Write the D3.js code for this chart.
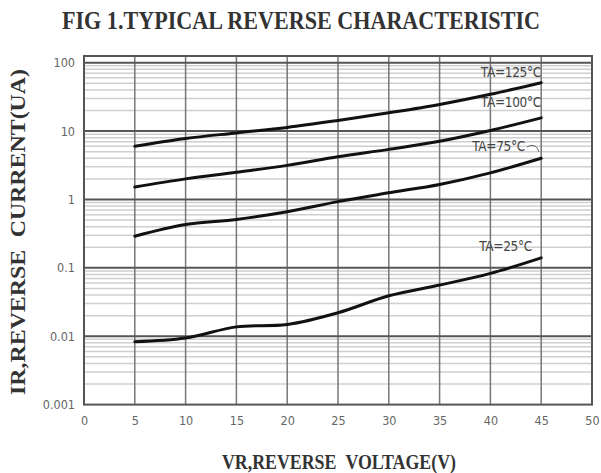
<!DOCTYPE html>
<html>
<head>
<meta charset="utf-8">
<script src="https://cdn.jsdelivr.net/npm/d3@7"></script>
<style>
  html, body { margin: 0; padding: 0; background: #fff; }
  svg { display: block; }
</style>
</head>
<body>
<svg id="chart" width="601" height="473"></svg>
<script>
// ---- data ----
const voltages = [5, 10, 15, 20, 25, 30, 35, 40, 45];
const ir125 = [6.0, 7.8, 9.4, 11.3, 14.3, 18.5, 24.5, 34.5, 51];
const ir100 = [1.52, 2.0, 2.5, 3.15, 4.2, 5.4, 7.1, 10.2, 15.6];
const ir75  = [0.29, 0.43, 0.51, 0.66, 0.93, 1.25, 1.66, 2.45, 4.0];
const ir25  = [0.0083, 0.0094, 0.0137, 0.0148, 0.022, 0.039, 0.056, 0.083, 0.14];
const seriesLabels = ["TA=125°C", "TA=100°C", "TA=75°C", "TA=25°C"];
const xTicks = [0, 5, 10, 15, 20, 25, 30, 35, 40, 45, 50];
const yTicks = [0.001, 0.01, 0.1, 1, 10, 100];
const yTickLabels = ["0.001", "0.01", "0.1", "1", "10", "100"];

const series = [ir125, ir100, ir75, ir25];

// ---- layout ----
const svg = d3.select("#chart");
const pL = 84, pR = 592, pT = 56, pB = 404.6;
const x = d3.scaleLinear().domain([0, 50]).range([pL, pR]);
const y = d3.scaleLog().domain([0.001, Math.pow(10, 2.098)]).range([pB, pT]);

// minor horizontal grid
const minor = [];
for (let e = -3; e <= 1; e++) for (let m = 2; m <= 9; m++) minor.push(m * Math.pow(10, e));
svg.append("g").selectAll("line").data(minor).join("line")
  .attr("x1", pL).attr("x2", pR)
  .attr("y1", d => y(d)).attr("y2", d => y(d))
  .attr("stroke", "#cfcfcf").attr("stroke-width", 1.5);

// vertical grid
svg.append("g").selectAll("line").data(xTicks.slice(1, -1)).join("line")
  .attr("x1", d => x(d)).attr("x2", d => x(d))
  .attr("y1", pT).attr("y2", pB)
  .attr("stroke", "#777").attr("stroke-width", 1.5);

// decade lines
svg.append("g").selectAll("line").data(yTicks.slice(1)).join("line")
  .attr("x1", pL).attr("x2", pR)
  .attr("y1", d => y(d)).attr("y2", d => y(d))
  .attr("stroke", "#555").attr("stroke-width", 2);

// frame
svg.append("rect").attr("x", pL).attr("y", pT)
  .attr("width", pR - pL).attr("height", pB - pT)
  .attr("fill", "none").attr("stroke", "#555").attr("stroke-width", 2);

const tickFont = "'DejaVu Sans Condensed', 'DejaVu Sans', sans-serif";
// axes labels via d3 axes
const xAxis = d3.axisBottom(x).tickValues(xTicks).tickSize(0).tickPadding(12).tickFormat(d3.format("d"));
const gx = svg.append("g").attr("transform", `translate(0,${pB})`).call(xAxis);
gx.select(".domain").remove();
gx.selectAll("text").attr("font-family", tickFont)
  .attr("font-size", 12.5).attr("fill", "#666");

const yAxis = d3.axisLeft(y).tickValues(yTicks).tickSize(0).tickPadding(9)
  .tickFormat((d, i) => yTickLabels[i]);
const gy = svg.append("g").attr("transform", `translate(${pL},0)`).call(yAxis);
gy.select(".domain").remove();
gy.selectAll("text").attr("font-family", tickFont)
  .attr("font-size", 12.5).attr("fill", "#666");

// curves
const line = d3.line().x((d, i) => x(voltages[i])).y(d => y(d)).curve(d3.curveCatmullRom.alpha(0.5));
svg.append("g").selectAll("path").data(series).join("path")
  .attr("d", d => line(d))
  .attr("fill", "none").attr("stroke", "#111").attr("stroke-width", 3)
  .attr("stroke-linecap", "round");

// series labels
const labelPos = [
  {x: 541, y: 77},
  {x: 541, y: 107},
  {x: 525, y: 151},
  {x: 532, y: 251}
];
svg.append("g").selectAll("text").data(seriesLabels).join("text")
  .attr("x", (d, i) => labelPos[i].x).attr("y", (d, i) => labelPos[i].y)
  .attr("text-anchor", "end")
  .attr("font-family", tickFont).attr("font-size", 13.5)
  .attr("fill", "#444").attr("letter-spacing", -0.3)
  .text(d => d);
// small leader for TA=75
svg.append("path").attr("d", "M527,147 q4,-3 8,-1 q3,2 4,6")
  .attr("fill", "none").attr("stroke", "#666").attr("stroke-width", 1);

// title
svg.append("text").attr("x", 301).attr("y", 29).attr("text-anchor", "middle")
  .attr("font-family", "'Liberation Serif', 'Times New Roman', serif")
  .attr("font-weight", "bold").attr("font-size", 25).attr("fill", "#333")
  .attr("textLength", 478).attr("lengthAdjust", "spacingAndGlyphs")
  .text("FIG 1.TYPICAL REVERSE CHARACTERISTIC");

// x axis title
svg.append("text").attr("x", 339).attr("y", 469).attr("text-anchor", "middle")
  .attr("font-family", "'Liberation Serif', 'Times New Roman', serif")
  .attr("font-weight", "bold").attr("font-size", 22).attr("fill", "#333")
  .attr("word-spacing", 6)
  .attr("textLength", 234).attr("lengthAdjust", "spacingAndGlyphs")
  .text("VR,REVERSE VOLTAGE(V)");

// y axis title
svg.append("text").attr("transform", "translate(25,232) rotate(-90)")
  .attr("text-anchor", "middle")
  .attr("font-family", "'Liberation Serif', 'Times New Roman', serif")
  .attr("font-weight", "bold").attr("font-size", 22).attr("fill", "#333")
  .attr("word-spacing", 6)
  .attr("textLength", 326).attr("lengthAdjust", "spacingAndGlyphs")
  .text("IR,REVERSE CURRENT(UA)");
</script>
</body>
</html>
